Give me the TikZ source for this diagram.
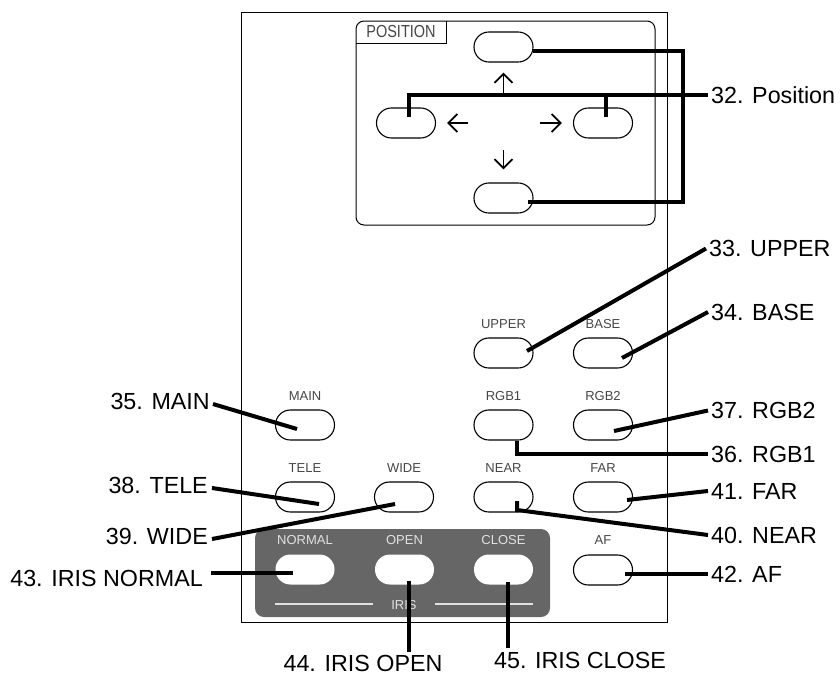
\documentclass[tikz,border=0pt]{standalone}
\usepackage{fontspec}
\setmainfont{Liberation Sans}
\usetikzlibrary{arrows.meta}
\definecolor{capgray}{RGB}{70,70,70}
\definecolor{irisgray}{RGB}{102,102,102}
\definecolor{irislight}{RGB}{225,225,225}
\begin{document}
\begin{tikzpicture}[x=1pt,y=-1pt,
  btn/.style={draw, line width=1.1pt, minimum width=59pt, minimum height=30pt, rounded corners=14.9pt, inner sep=0pt},
  wbtn/.style={fill=white, minimum width=59pt, minimum height=30pt, rounded corners=14.9pt, inner sep=0pt},
  btncap/.style={font=\fontsize{13}{15}\selectfont, text=capgray, inner sep=0pt, text height=9.3pt, text depth=0pt},
  irisbtncap/.style={btncap, text=irislight},
  rlab/.style={font=\fontsize{23.3}{27}\selectfont, anchor=west, inner xsep=3pt, inner ysep=0pt, text height=16.7pt, text depth=0pt},
  llab/.style={rlab, anchor=east},
  blab/.style={font=\fontsize{23.3}{27}\selectfont, inner sep=0pt, text height=16.7pt, text depth=0pt},
  conn/.style={line width=4pt, line join=miter},
  arr/.style={line width=1.8pt, -{Straight Barb[length=9pt,width=18pt,line width=1.8pt]}}
]
\useasboundingbox (0,0) rectangle (840,675);
% panel
\draw[line width=1pt] (241,12) rectangle (667,622);
% position box
\draw[line width=1pt, rounded corners=8pt] (356,21) rectangle (655,225);
\draw[line width=1pt] (356,43) -- (446,43) -- (446,21);
\node[font=\fontsize{14.5}{16}\selectfont, text=capgray, inner sep=0pt] (postitle) at (401,32) {\scalebox{1}[1.2]{POSITION}};
% iris panel
\fill[irisgray, rounded corners=9pt] (255,529) rectangle (550,617);
\draw[irislight, line width=1.5pt] (275,604) -- (373,604);
\draw[irislight, line width=1.5pt] (435,604) -- (533,604);
\node[irisbtncap] (iristxt) at (404,605) {IRIS};

% buttons
\node[btn] (posU) at (503.5,47) {};
\node[btn] (posL) at (406,123) {};
\node[btn] (posR) at (603,123) {};
\node[btn] (posD) at (503.5,198) {};
\node[btn] (upper) at (503.5,353) {};
\node[btn] (base) at (603,353) {};
\node[btn] (main) at (305,425) {};
\node[btn] (rgb1) at (503.5,425) {};
\node[btn] (rgb2) at (603,425) {};
\node[btn] (tele) at (305,497) {};
\node[btn] (wide) at (404,497) {};
\node[btn] (near) at (503.5,497) {};
\node[btn] (far) at (603,497) {};
\node[btn] (af) at (603,570) {};
\node[wbtn] (normal) at (305,569.5) {};
\node[wbtn] (open) at (404.5,569.5) {};
\node[wbtn] (close) at (503.5,569.5) {};

% captions
\node[btncap] (cupper) at (503.5,324) {UPPER};
\node[btncap] (cbase) at (603,324) {BASE};
\node[btncap] (cmain) at (305,396) {MAIN};
\node[btncap] (crgb1) at (503.5,396) {RGB1};
\node[btncap] (crgb2) at (603,396) {RGB2};
\node[btncap] (ctele) at (305,468) {TELE};
\node[btncap] (cwide) at (404,468) {WIDE};
\node[btncap] (cnear) at (503.5,468) {NEAR};
\node[btncap] (cfar) at (603,468) {FAR};
\node[btncap] (caf) at (603,540) {AF};
\node[irisbtncap] (cnormal) at (305,540) {NORMAL};
\node[irisbtncap] (copen) at (404.5,540) {OPEN};
\node[irisbtncap] (cclose) at (503.5,540) {CLOSE};

% direction arrows
\draw[arr] (posU.center |- 0,95) -- ([shift={(0,10)}]posU.south);
\draw[arr] ([shift={(32,0)}]posL.east) -- ([shift={(11,0)}]posL.east);
\draw[arr] ([shift={(-33,0)}]posR.west) -- ([shift={(-11,0)}]posR.west);
\draw[arr] ([shift={(0,-32)}]posD.north) -- ([shift={(0,-13)}]posD.north);

% labels
\node[rlab] (l32) at (708,95) {32. Position};
\node[rlab] (l33) at (706,248.5) {33. UPPER};
\node[rlab] (l34) at (708,312) {34. BASE};
\node[rlab] (l37) at (708,410.5) {37. RGB2};
\node[rlab] (l36) at (708,454) {36. RGB1};
\node[rlab] (l41) at (708,491) {41. FAR};
\node[rlab] (l40) at (708,535) {40. NEAR};
\node[rlab] (l42) at (708,574) {42. AF};
\node[llab] (l35) at (213,401) {35. MAIN};
\node[llab] (l38) at (211,485) {38. TELE};
\node[llab] (l39) at (211,536) {39. WIDE};
\node[llab, inner xsep=8pt] (l43) at (211,578) {43. IRIS NORMAL};
\node[blab] (l44) at (363,663) {44. IRIS OPEN};
\node[blab] (l45) at (580,660) {45. IRIS CLOSE};
\coordinate (k32) at (683,150);
\coordinate (c44) at (409,652);
\coordinate (c45) at (508,648);
\coordinate (n43) at ([shift={(-12,3.5)}]normal.center);

% connectors
\draw[conn] ([shift={(29.5,4)}]posU.center) -| (k32) |- ([shift={(24.5,4)}]posD.center);
\draw[conn] ([shift={(3,-6)}]posL.center) |- (l32.west);
\draw[conn] ([shift={(3,-6)}]posR.center) -- ([shift={(3,0)}]posR.center |- l32.west);
\draw[conn] ([shift={(23.5,-2)}]upper.center) -- (l33.west);
\draw[conn] ([shift={(19,5)}]base.center) -- (l34.west);
\draw[conn] ([shift={(11,6)}]rgb2.center) -- (l37.west);
\draw[conn] ([shift={(13.5,0)}]rgb1.south) |- (l36.west);
\draw[conn] ([shift={(24,3)}]far.center) -- (l41.west);
\draw[conn] ([shift={(13.5,4)}]near.center) -- ([shift={(13.5,13)}]near.center) -- (l40.west);
\draw[conn] ([shift={(22,4)}]af.center) -- (l42.west);
\draw[conn] ([shift={(-8,4)}]main.center) -- ([shift={(0,3)}]l35.east);
\draw[conn] ([shift={(14,7)}]tele.center) -- ([shift={(1,3)}]l38.east);
\draw[conn] ([shift={(-9,7)}]wide.center) -- ([shift={(1,3)}]l39.east);
\draw[conn] (n43) -- (n43 -| l43.east);
\draw[conn] ([shift={(4.5,11.5)}]open.center) -- (c44);
\draw[conn] ([shift={(4.5,12.5)}]close.center) -- (c45);
\end{tikzpicture}
\end{document}
